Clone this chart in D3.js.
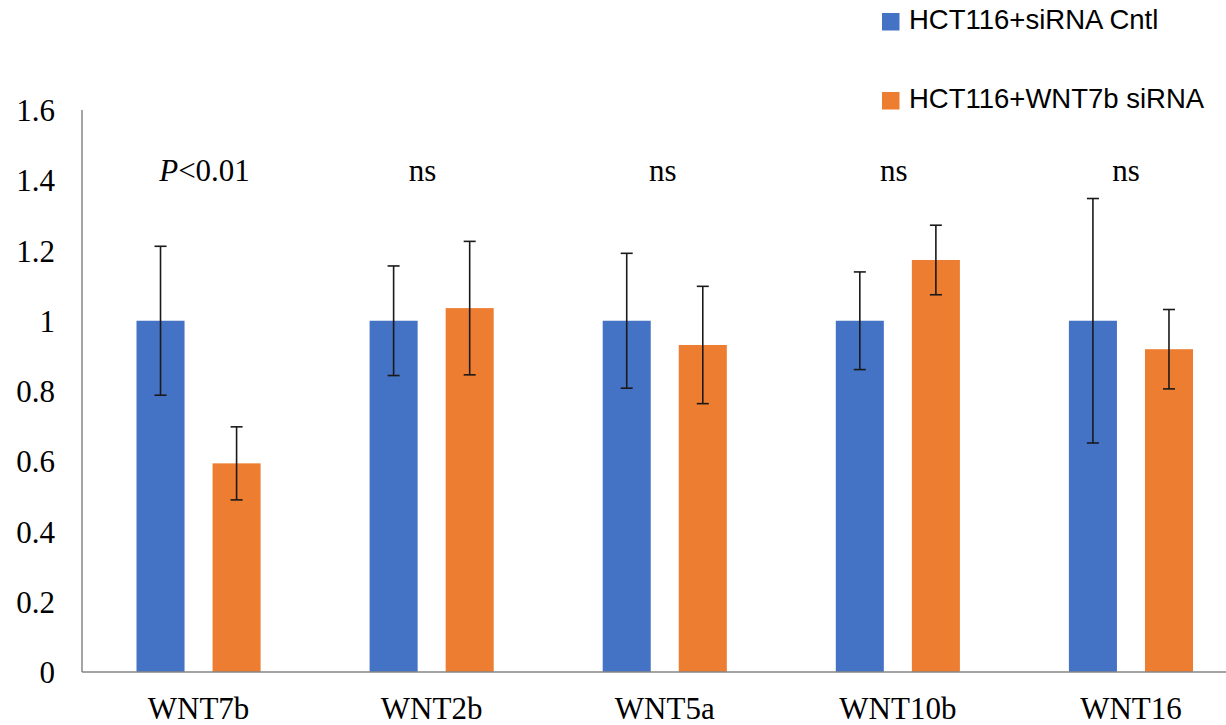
<!DOCTYPE html>
<html>
<head>
<meta charset="utf-8">
<script src="https://cdn.jsdelivr.net/npm/d3@7"></script>
<style>
    body { margin: 0; background: #fff; }
    svg { display: block; }
</style>
</head>
<body>
<script>
'use strict';

// chart data
var categories = ['WNT7b', 'WNT2b', 'WNT5a', 'WNT10b', 'WNT16'];
var seriesNames = ['HCT116+siRNA Cntl', 'HCT116+WNT7b siRNA'];
var cntlValues = [1, 1, 1, 1, 1];
var cntlErrors = [0.212, 0.156, 0.192, 0.139, 0.348];
var knockValues = [0.594, 1.036, 0.931, 1.173, 0.919];
var knockErrors = [0.104, 0.19, 0.167, 0.099, 0.113];
var annotations = ['P<0.01', 'ns', 'ns', 'ns', 'ns'];
var yTicks = [0, 0.2, 0.4, 0.6, 0.8, 1, 1.2, 1.4, 1.6];

var width = 1226;
var height = 725;
var colors = ['#4472C4', '#ED7D31'];
var axisColor = '#868686';
var serif = '"Liberation Serif", "Times New Roman", serif';
var sans = '"Liberation Sans", Arial, sans-serif';

var svg = d3.select('body').append('svg')
        .attr('width', width)
        .attr('height', height);

// plot area: the right-most band runs past the picture edge
var left = 82;
var bandStep = 233.1;
var x0 = d3.scaleBand()
        .domain(categories)
        .range([left, left + bandStep * categories.length])
        .padding(0);

var x1 = d3.scaleBand()
        .domain(seriesNames)
        .range([54.5, bandStep - 54.5])
        .paddingInner(28 / 76)
        .paddingOuter(0);

var y = d3.scaleLinear()
        .domain([0, 1.6])
        .range([672, 110]);

// y tick labels (no tick marks, no gridlines)
svg.append('g')
        .selectAll('text')
        .data(yTicks)
        .enter()
        .append('text')
        .attr('x', 55)
        .attr('y', function(d) { return y(d); })
        .attr('dy', '0.36em')
        .attr('text-anchor', 'end')
        .attr('font-family', serif)
        .attr('font-size', 31)
        .attr('fill', '#000')
        .text(function(d) { return d; });

// build rows for both series
var rows = [];
categories.forEach(function(c, i) {
    rows.push({cat: c, s: seriesNames[0], v: cntlValues[i], e: cntlErrors[i], color: colors[0]});
    rows.push({cat: c, s: seriesNames[1], v: knockValues[i], e: knockErrors[i], color: colors[1]});
});

// bars
svg.append('g')
        .selectAll('rect')
        .data(rows)
        .enter()
        .append('rect')
        .attr('x', function(d) { return x0(d.cat) + x1(d.s); })
        .attr('y', function(d) { return y(d.v); })
        .attr('width', x1.bandwidth())
        .attr('height', function(d) { return y(0) - y(d.v); })
        .attr('fill', function(d) { return d.color; });

// error bars
var capHalf = 6;
var err = svg.append('g')
        .attr('stroke', '#1a1a1a')
        .attr('stroke-width', 1.6);
rows.forEach(function(d) {
    var cx = x0(d.cat) + x1(d.s) + x1.bandwidth() / 2;
    var yTop = y(d.v + d.e);
    var yBot = y(d.v - d.e);
    err.append('line').attr('x1', cx).attr('x2', cx).attr('y1', yTop).attr('y2', yBot);
    err.append('line').attr('x1', cx - capHalf).attr('x2', cx + capHalf).attr('y1', yTop).attr('y2', yTop);
    err.append('line').attr('x1', cx - capHalf).attr('x2', cx + capHalf).attr('y1', yBot).attr('y2', yBot);
});

// axes lines
svg.append('line')
        .attr('x1', left).attr('x2', left)
        .attr('y1', y(1.6)).attr('y2', y(0))
        .attr('stroke', axisColor)
        .attr('stroke-width', 1.5);
svg.append('line')
        .attr('x1', left).attr('x2', width)
        .attr('y1', y(0)).attr('y2', y(0))
        .attr('stroke', axisColor)
        .attr('stroke-width', 1.5);

// category labels
svg.append('g')
        .selectAll('text')
        .data(categories)
        .enter()
        .append('text')
        .attr('x', function(d) { return x0(d) + x0.bandwidth() / 2; })
        .attr('y', 719)
        .attr('text-anchor', 'middle')
        .attr('font-family', serif)
        .attr('font-size', 31)
        .attr('fill', '#000')
        .text(function(d) { return d; });

// significance labels above each group
var annotDx = [6, -9, -2, -4, -5];
var annot = svg.append('g')
        .attr('font-family', serif)
        .attr('font-size', 31)
        .attr('fill', '#000')
        .attr('text-anchor', 'middle');
annotations.forEach(function(a, i) {
    var t = annot.append('text')
            .attr('x', x0(categories[i]) + x0.bandwidth() / 2 + annotDx[i])
            .attr('y', 181);
    if (a.charAt(0) === 'P') {
        t.append('tspan').attr('font-style', 'italic').text('P');
        t.append('tspan').text(a.substring(1));
    } else {
        t.text(a);
    }
});

// legend
var legendY = [13, 92];
var legend = svg.append('g');
seriesNames.forEach(function(name, i) {
    legend.append('rect')
            .attr('x', 882)
            .attr('y', legendY[i])
            .attr('width', 17.5)
            .attr('height', 17.5)
            .attr('fill', colors[i]);
    legend.append('text')
            .attr('x', 909)
            .attr('y', legendY[i] + 16)
            .attr('font-family', sans)
            .attr('font-size', 27.5)
            .attr('fill', '#000')
            .text(name);
});
</script>
</body>
</html>
